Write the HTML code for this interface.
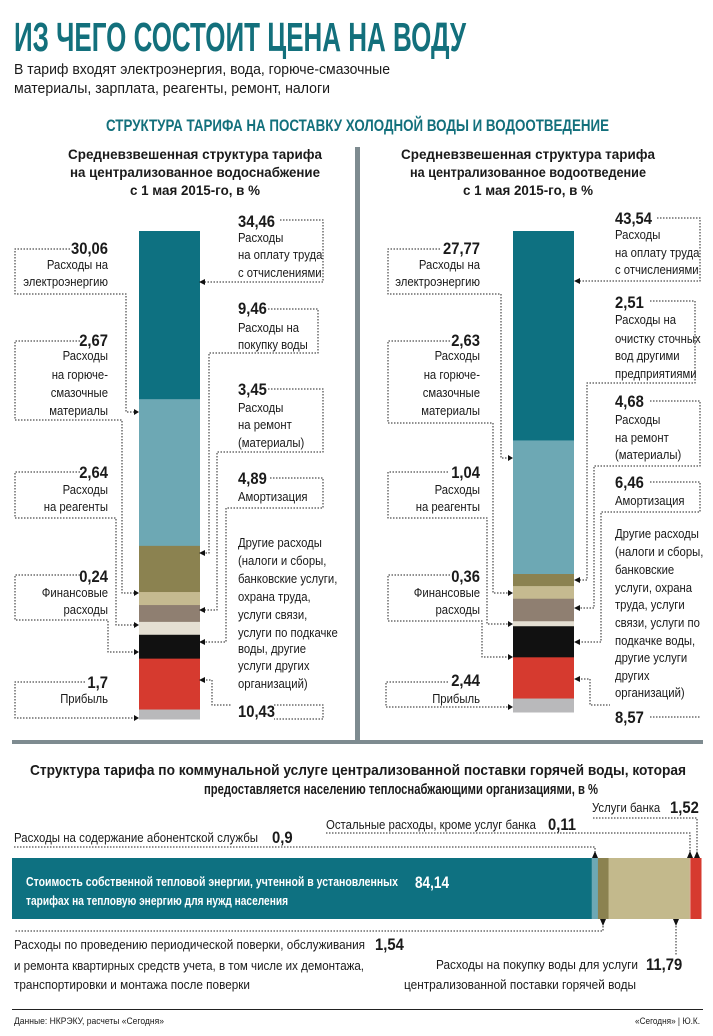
<!DOCTYPE html>
<html><head><meta charset="utf-8"><style>
html,body{margin:0;padding:0;background:#fff;}
svg{display:block;}
text{font-family:"Liberation Sans Narrow","Liberation Sans",sans-serif;fill:#1a1a1a;}
.n{font-weight:bold;font-size:17px;}
.l{font-size:13px;}
.h{font-weight:bold;font-size:13.5px;}
.d{fill:none;stroke:#222;stroke-width:1;stroke-dasharray:1.5,1.5;}
</style></head><body>
<svg id="chart" width="713" height="1036" viewBox="0 0 713 1036">
<text x="14" y="51" font-size="41" font-weight="bold" fill="#13707c" style="fill:#13707c" textLength="452" lengthAdjust="spacingAndGlyphs">ИЗ ЧЕГО СОСТОИТ ЦЕНА НА ВОДУ</text>
<text x="14" y="74" font-size="14.5" textLength="376" lengthAdjust="spacingAndGlyphs">В тариф входят электроэнергия, вода, горюче-смазочные</text>
<text x="14" y="93" font-size="14.5" textLength="316" lengthAdjust="spacingAndGlyphs">материалы, зарплата, реагенты, ремонт, налоги</text>
<text x="106" y="131" font-size="17" font-weight="bold" style="fill:#13707c" textLength="503" lengthAdjust="spacingAndGlyphs">СТРУКТУРА ТАРИФА НА ПОСТАВКУ ХОЛОДНОЙ ВОДЫ И ВОДООТВЕДЕНИЕ</text>
<g text-anchor="middle">
<text x="195" y="159" class="h" textLength="254" lengthAdjust="spacingAndGlyphs">Средневзвешенная структура тарифа</text>
<text x="195" y="177" class="h" textLength="250" lengthAdjust="spacingAndGlyphs">на централизованное водоснабжение</text>
<text x="195" y="195" class="h" textLength="130" lengthAdjust="spacingAndGlyphs">с 1 мая 2015-го, в %</text>
</g>
<g text-anchor="middle">
<text x="528" y="159" class="h" textLength="254" lengthAdjust="spacingAndGlyphs">Средневзвешенная структура тарифа</text>
<text x="528" y="177" class="h" textLength="236" lengthAdjust="spacingAndGlyphs">на централизованное водоотведение</text>
<text x="528" y="195" class="h" textLength="130" lengthAdjust="spacingAndGlyphs">с 1 мая 2015-го, в %</text>
</g>
<rect x="355" y="147" width="5" height="596" fill="#7e8b90"/>
<rect x="12" y="740" width="691" height="4" fill="#7e8b90"/>

<g id="bars"></g>

<g>
<polyline class="d" points="70,249 15,249 15,294 126,294 126,412 136,412"/>
<polyline class="d" points="80,341 15,341 15,420 122,420 122,593 136,593"/>
<polyline class="d" points="80,472 15,472 15,518 116,518 116,625 136,625"/>
<polyline class="d" points="80,575 15,575 15,620 108,620 108,652 136,652"/>
<polyline class="d" points="85,682 15,682 15,718 136,718"/>
<polyline class="d" points="280,220 323,220 323,282 203,282"/>
<polyline class="d" points="268,309 318,309 318,353 209,353 209,553 203,553"/>
<polyline class="d" points="268,389 323,389 323,452 217,452 217,610 203,610"/>
<polyline class="d" points="270,478 323,478 323,508 226,508 226,642 203,642"/>
<polyline class="d" points="203,680 212,680 212,705 232,705"/>
<polyline class="d" points="274,705 323,705 323,719 274,719"/>
</g>
<g>
<polyline class="d" points="440,249 388,249 388,294 501,294 501,458 509,458"/>
<polyline class="d" points="450,341 388,341 388,423 493,423 493,593 509,593"/>
<polyline class="d" points="448,472 388,472 388,518 487,518 487,624 509,624"/>
<polyline class="d" points="450,575 388,575 388,621 482,621 482,657 509,657"/>
<polyline class="d" points="448,682 386,682 386,707 509,707"/>
<polyline class="d" points="657,218 700,218 700,281 578,281"/>
<polyline class="d" points="650,301 695,301 695,383 587,383 587,580 578,580"/>
<polyline class="d" points="650,401 700,401 700,466 594,466 594,608 578,608"/>
<polyline class="d" points="650,482 700,482 700,512 601,512 601,642 578,642"/>
<polyline class="d" points="578,679 590,679 590,705 610,705"/>
<polyline class="d" points="650,717 700,717"/>
</g>
<g fill="#111">
<path d="M134,409 L139,412 L134,415Z M134,590 L139,593 L134,596Z M134,622 L139,625 L134,628Z M134,649 L139,652 L134,655Z M134,715 L139,718 L134,721Z"/>
<path d="M205,279 L199,282 L205,285Z M205,550 L199,553 L205,556Z M205,607 L199,610 L205,613Z M205,639 L199,642 L205,645Z M205,677 L199,680 L205,683Z"/>
<path d="M508,455 L513,458 L508,461Z M508,590 L513,593 L508,596Z M508,621 L513,624 L508,627Z M508,654 L513,657 L508,660Z M508,704 L513,707 L508,710Z"/>
<path d="M580,278 L574,281 L580,284Z M580,577 L574,580 L580,583Z M580,605 L574,608 L580,611Z M580,639 L574,642 L580,645Z M580,676 L574,679 L580,682Z"/>
</g>

<g class="cond" text-anchor="end">
<text x="108" y="254" class="n">30,06</text><text x="108" y="269" class="l">Расходы на</text><text x="108" y="286" class="l">электроэнергию</text>
<text x="108" y="346" class="n">2,67</text><text x="108" y="360" class="l">Расходы</text><text x="108" y="379" class="l">на горюче-</text><text x="108" y="397" class="l">смазочные</text><text x="108" y="415" class="l">материалы</text>
<text x="108" y="478" class="n">2,64</text><text x="108" y="494" class="l">Расходы</text><text x="108" y="511" class="l">на реагенты</text>
<text x="108" y="582" class="n">0,24</text><text x="108" y="597" class="l">Финансовые</text><text x="108" y="614" class="l">расходы</text>
<text x="108" y="688" class="n">1,7</text><text x="108" y="703" class="l">Прибыль</text>
</g>
<g class="cond">
<text x="238" y="227" class="n">34,46</text><text x="238" y="242" class="l">Расходы</text><text x="238" y="259" class="l">на оплату труда</text><text x="238" y="277" class="l">с отчислениями</text>
<text x="238" y="314" class="n">9,46</text><text x="238" y="332" class="l">Расходы на</text><text x="238" y="349" class="l">покупку воды</text>
<text x="238" y="395" class="n">3,45</text><text x="238" y="412" class="l">Расходы</text><text x="238" y="429" class="l">на ремонт</text><text x="238" y="447" class="l">(материалы)</text>
<text x="238" y="484" class="n">4,89</text><text x="238" y="501" class="l">Амортизация</text>
<text x="238" y="547" class="l">Другие расходы</text><text x="238" y="565" class="l">(налоги и сборы,</text><text x="238" y="583" class="l">банковские услуги,</text><text x="238" y="601" class="l">охрана труда,</text><text x="238" y="619" class="l">услуги связи,</text><text x="238" y="637" class="l">услуги по подкачке</text><text x="238" y="653" class="l">воды, другие</text><text x="238" y="670" class="l">услуги других</text><text x="238" y="688" class="l">организаций)</text>
<text x="238" y="717" class="n">10,43</text>
</g>
<g class="cond" text-anchor="end">
<text x="480" y="254" class="n">27,77</text><text x="480" y="269" class="l">Расходы на</text><text x="480" y="286" class="l">электроэнергию</text>
<text x="480" y="346" class="n">2,63</text><text x="480" y="360" class="l">Расходы</text><text x="480" y="379" class="l">на горюче-</text><text x="480" y="397" class="l">смазочные</text><text x="480" y="415" class="l">материалы</text>
<text x="480" y="478" class="n">1,04</text><text x="480" y="494" class="l">Расходы</text><text x="480" y="511" class="l">на реагенты</text>
<text x="480" y="582" class="n">0,36</text><text x="480" y="597" class="l">Финансовые</text><text x="480" y="614" class="l">расходы</text>
<text x="480" y="686" class="n">2,44</text><text x="480" y="703" class="l">Прибыль</text>
</g>
<g class="cond">
<text x="615" y="224" class="n">43,54</text><text x="615" y="239" class="l">Расходы</text><text x="615" y="257" class="l">на оплату труда</text><text x="615" y="274" class="l">с отчислениями</text>
<text x="615" y="308" class="n">2,51</text><text x="615" y="324" class="l">Расходы на</text><text x="615" y="343" class="l">очистку сточных</text><text x="615" y="360" class="l">вод другими</text><text x="615" y="378" class="l">предприятиями</text>
<text x="615" y="407" class="n">4,68</text><text x="615" y="424" class="l">Расходы</text><text x="615" y="442" class="l">на ремонт</text><text x="615" y="459" class="l">(материалы)</text>
<text x="615" y="488" class="n">6,46</text><text x="615" y="505" class="l">Амортизация</text>
<text x="615" y="538" class="l">Другие расходы</text><text x="615" y="556" class="l">(налоги и сборы,</text><text x="615" y="574" class="l">банковские</text><text x="615" y="592" class="l">услуги, охрана</text><text x="615" y="609" class="l">труда, услуги</text><text x="615" y="627" class="l">связи, услуги по</text><text x="615" y="645" class="l">подкачке воды,</text><text x="615" y="662" class="l">другие услуги</text><text x="615" y="680" class="l">других</text><text x="615" y="697" class="l">организаций)</text>
<text x="615" y="723" class="n">8,57</text>
</g>

<g text-anchor="middle">
<text x="358" y="775" font-size="15" font-weight="bold" textLength="656" lengthAdjust="spacingAndGlyphs">Структура тарифа по коммунальной услуге централизованной поставки горячей воды, которая</text>
<text x="401" y="794" font-size="15" font-weight="bold" textLength="394" lengthAdjust="spacingAndGlyphs">предоставляется населению теплоснабжающими организациями, в %</text>
</g>
<g class="cond">
<text x="592" y="812" class="l">Услуги банка</text><text x="670" y="813" class="n">1,52</text>
<text x="548" y="830" class="n">0,11</text>
<text x="272" y="843" class="n">0,9</text>
<text x="375" y="950" class="n">1,54</text>
<text x="646" y="970" class="n">11,79</text>
</g>
<g>
<text x="326" y="829" class="l" textLength="210" lengthAdjust="spacingAndGlyphs">Остальные расходы, кроме услуг банка</text>
<text x="14" y="842" class="l" textLength="244" lengthAdjust="spacingAndGlyphs">Расходы на содержание абонентской службы</text>
<text x="14" y="949" class="l" textLength="351" lengthAdjust="spacingAndGlyphs">Расходы по проведению периодической поверки, обслуживания</text>
<text x="14" y="970" class="l" textLength="350" lengthAdjust="spacingAndGlyphs">и ремонта квартирных средств учета, в том числе их демонтажа,</text>
<text x="14" y="989" class="l" textLength="236" lengthAdjust="spacingAndGlyphs">транспортировки и монтажа после поверки</text>
<text x="638" y="969" class="l" text-anchor="end" textLength="202" lengthAdjust="spacingAndGlyphs">Расходы на покупку воды для услуги</text>
<text x="636" y="989" class="l" text-anchor="end" textLength="232" lengthAdjust="spacingAndGlyphs">централизованной поставки горячей воды</text>
</g>
<g>
<polyline class="d" points="14,847 595,847 595,854"/>
<polyline class="d" points="326,833 690,833 690,854"/>
<polyline class="d" points="593,818 697,818 697,854"/>
<polyline class="d" points="603,923 603,931 14,931"/>
<polyline class="d" points="676,923 676,955"/>
<path fill="#111" d="M592,858 L595,851 L598,858Z M687,858 L690,851 L693,858Z M694,858 L697,851 L700,858Z M600,919 L603,926 L606,919Z M673,919 L676,926 L679,919Z"/>
</g>
<g id="hbar"></g>
<g>
<text x="26" y="886" font-size="12.5" font-weight="bold" style="fill:#fff" textLength="372" lengthAdjust="spacingAndGlyphs">Стоимость собственной тепловой энергии, учтенной в установленных</text>
<text x="26" y="905" font-size="12.5" font-weight="bold" style="fill:#fff" textLength="262" lengthAdjust="spacingAndGlyphs">тарифах на тепловую энергию для нужд населения</text>
<text x="415" y="888" font-size="17" font-weight="bold" style="fill:#fff" textLength="34" lengthAdjust="spacingAndGlyphs">84,14</text>
</g>
<rect x="12" y="1009" width="691" height="1" fill="#222"/>
<text x="14" y="1024" font-size="9.5" textLength="150" lengthAdjust="spacingAndGlyphs">Данные: НКРЭКУ, расчеты «Сегодня»</text>
<text x="700" y="1024" font-size="9.5" text-anchor="end" textLength="65" lengthAdjust="spacingAndGlyphs">«Сегодня» | Ю.К.</text>
</svg>
<script>
const categories = ["Оплата труда","Электроэнергия","Прочее/покупка воды","ГСМ","Ремонт","Реагенты","Амортизация","Другие расходы","Прибыль и фин. расходы"];
const supplyValues = [34.46, 30.06, 9.46, 2.67, 3.45, 2.64, 4.89, 10.43, 1.94];
const drainValues = [43.54, 27.77, 2.51, 2.63, 4.68, 1.04, 6.46, 8.57, 2.80];
const segColors = ["#0e7181","#6da8b4","#8b8250","#c5ba90","#8f7f71","#e4dfd2","#111111","#d63a2f","#b9b9bb"];
const hotCategories = ["Тепловая энергия","Абонентская служба","Поверка","Покупка воды","Остальные","Услуги банка"];
const hotValues = [84.14, 0.9, 1.54, 11.79, 0.11, 1.52];
const hotColors = ["#0e7181","#6da8b4","#8b8250","#c3b98c","#e8b0a8","#d63a2f"];
const NS = "http://www.w3.org/2000/svg";
function yScale(v, total, h){ return v / total * h; }
function drawStack(g, vals, x, w, top, bottom, prefix){
  const total = vals.reduce((a,b)=>a+b,0);
  let y = top;
  vals.forEach((v,i)=>{
    const h = yScale(v, total, bottom - top);
    const r = document.createElementNS(NS,"rect");
    r.setAttribute("x", x); r.setAttribute("y", y);
    r.setAttribute("width", w); r.setAttribute("height", h + 0.5);
    r.setAttribute("fill", segColors[i]);
    
    
    g.appendChild(r);
    y += h;
  });
}
const bars = document.getElementById("bars");
drawStack(bars, supplyValues, 139, 61, 231, 719, "water-supply");
drawStack(bars, drainValues, 513, 61, 231, 712, "water-drainage");
function xScale(v, total){ return v / total * (701 - 12); }
const hb = document.getElementById("hbar");
const hTotal = hotValues.reduce((a,b)=>a+b,0);
let hx = 12;
hotValues.forEach((v,i)=>{
  const w = xScale(v, hTotal);
  const r = document.createElementNS(NS,"rect");
  r.setAttribute("x", hx); r.setAttribute("y", 858);
  r.setAttribute("width", w + 0.5); r.setAttribute("height", 61);
  r.setAttribute("fill", hotColors[i]);
  
  
  hb.appendChild(r);
  hx += w;
});
document.querySelectorAll('g.cond text').forEach(t=>{
  const L = t.getComputedTextLength();
  t.setAttribute('textLength', (L*0.87).toFixed(1));
  t.setAttribute('lengthAdjust','spacingAndGlyphs');
});
</script>
</body></html>
